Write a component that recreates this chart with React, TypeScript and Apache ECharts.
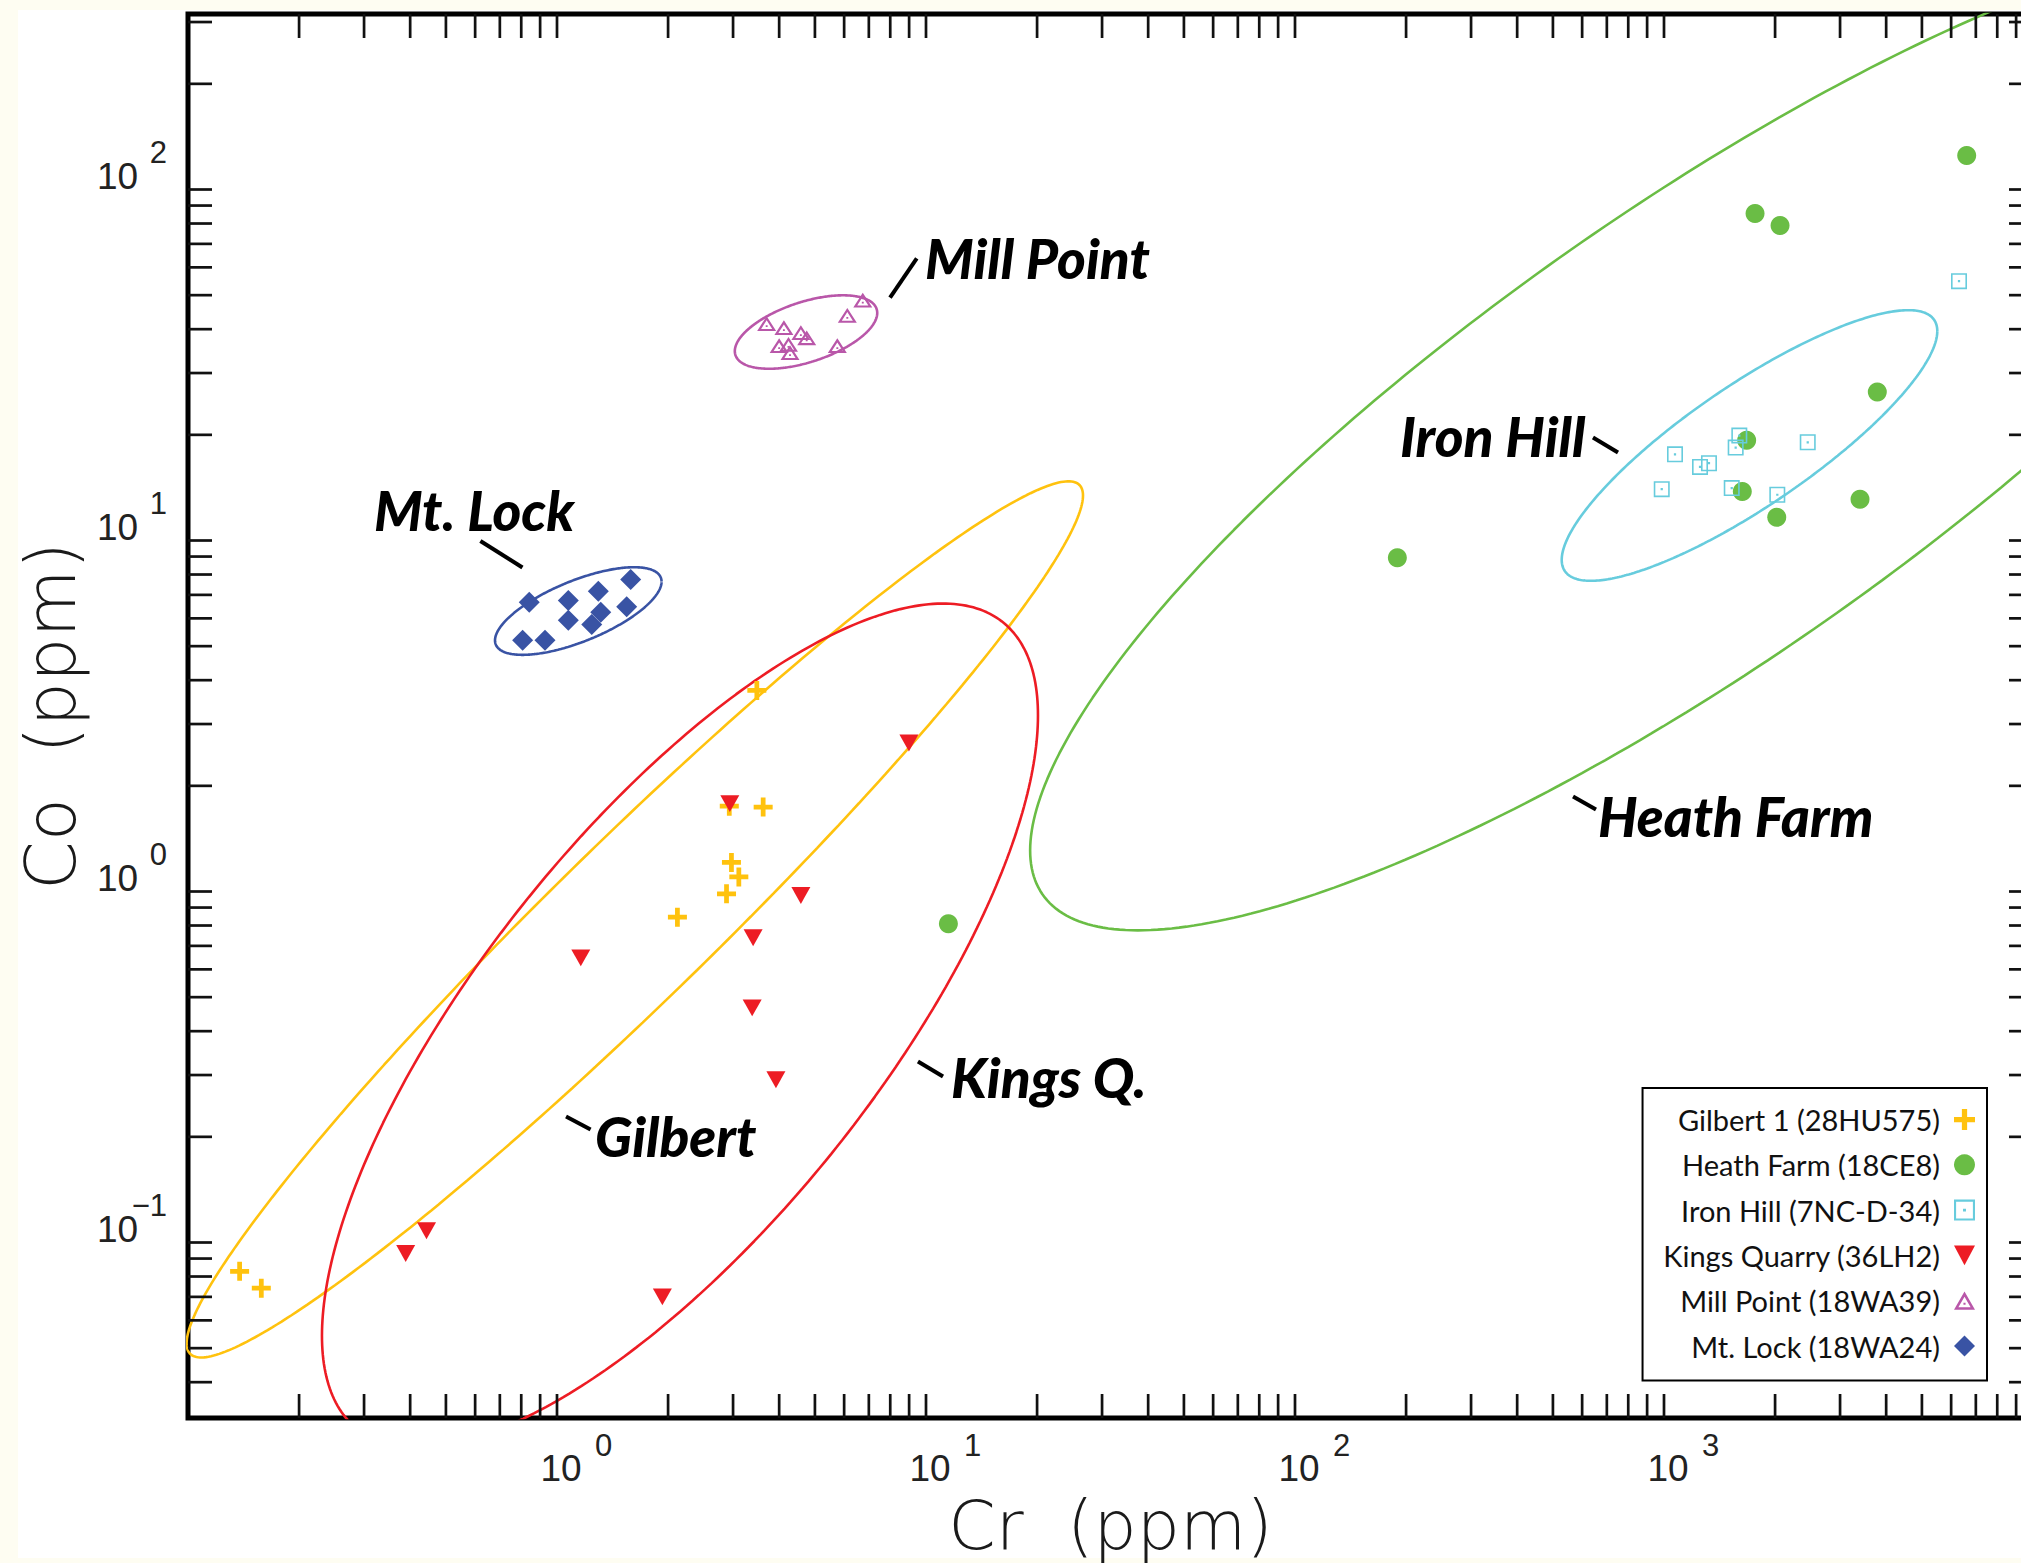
import React, { useEffect, useRef } from 'react';
import * as echarts from 'echarts';

// ---------- axis ranges / ticks ----------
const X_MIN = 0.1;
const X_MAX = 10000;
const Y_MIN = Math.pow(10, -1.5);
const Y_MAX = Math.pow(10, 2.5);
const tickMultipliers = [1, 2, 3, 4, 5, 6, 7, 8, 9];
const xTickDecades = [-1, 0, 1, 2, 3];
const yTickDecades = [-2, -1, 0, 1, 2];
const xLabelExponents = [0, 1, 2, 3];
const yLabelExponents = [-1, 0, 1, 2];

// ---------- data (Cr ppm, Co ppm) ----------
const gilbertCr = [3.48, 2.93, 3.62, 2.97, 3.11, 2.88, 2.12, 0.138, 0.158];
const gilbertCo = [3.74, 1.75, 1.74, 1.21, 1.1, 0.985, 0.845, 0.0828, 0.0741];

const heathCr = [6612, 1765, 2063, 3785, 1675, 1630, 2021, 3398, 189.4, 11.5];
const heathCo = [125, 85.4, 79.0, 26.5, 19.3, 13.8, 11.65, 13.1, 8.93, 0.809];

const ironCr = [6302, 1600, 1564, 2452, 1071, 1324, 1252, 986, 1526, 2028];
const ironCo = [54.8, 19.9, 18.4, 19.05, 17.6, 16.6, 16.2, 14.0, 14.1, 13.5];

const kingsCr = [8.99, 2.94, 4.58, 1.16, 3.4, 3.38, 3.92, 0.443, 0.389, 1.93];
const kingsCo = [2.65, 1.78, 0.974, 0.647, 0.738, 0.466, 0.291, 0.108, 0.093, 0.07];

const millCr = [3.7, 4.12, 4.58, 4.75, 4.0, 4.24, 4.28, 5.75, 6.12, 6.74];
const millCo = [41.5, 40.4, 39.1, 37.8, 35.9, 36.2, 34.3, 35.9, 43.8, 48.4];

const mtLockCr = [0.841, 1.073, 1.294, 1.584, 1.545, 1.314, 1.073, 1.242, 0.807, 0.928];
const mtLockCo = [6.67, 6.75, 7.17, 7.74, 6.47, 6.25, 5.93, 5.76, 5.2, 5.2];

// ---------- confidence ellipses (centre in ppm, spread in decades, correlation) ----------
const ellipseNames = ['Gilbert', 'Heath', 'Iron', 'Kings', 'Mill', 'MtLock'];
const ellipseCentreCr = [1.625, 1236, 1705, 2.154, 4.73, 1.142];
const ellipseCentreCo = [0.8327, 19.91, 18.65, 0.415, 39.26, 6.296];
const ellipseSpreadCr = [1.2146, 1.8098, 0.5089, 0.9702, 0.193, 0.2257];
const ellipseSpreadCo = [1.2481, 1.4097, 0.3855, 1.2023, 0.1046, 0.1248];
const ellipseCorr = [0.9676, 0.8385, 0.845, 0.735, 0.52, 0.67];

// ---------- annotations ----------
const annotationNames = ['Mill Point', 'Mt. Lock', 'Iron Hill', 'Heath Farm', 'Kings Q.', 'Gilbert'];
const annotationCr = [9.94, 0.319, 192.6, 662.4, 11.69, 1.268];
const annotationCo = [63.6, 12.18, 19.85, 1.636, 0.2952, 0.2017];
const leaderFromCr = [7.99, 0.62, 642.0, 566.8, 9.51, 1.058];
const leaderFromCo = [49.2, 9.97, 19.65, 1.865, 0.328, 0.2286];
const leaderToCr = [9.44, 0.806, 750.5, 654.2, 11.12, 1.233];
const leaderToCo = [63.6, 8.38, 17.81, 1.713, 0.297, 0.21];

// ---------- legend ----------
const legendNames = [
  'Gilbert 1 (28HU575)',
  'Heath Farm (18CE8)',
  'Iron Hill (7NC-D-34)',
  'Kings Quarry (36LH2)',
  'Mill Point (18WA39)',
  'Mt. Lock (18WA24)',
];
const colors = ['#FFC20E', '#6ABD45', '#67CCDD', '#ED1C24', '#B957A9', '#3953A4'];

const SYM_CROSS = 'path://M15,0H25V15H40V25H25V40H15V25H0V15H15Z';
const SYM_SQUARE_DOT = 'path://M0,0H100V100H0Z M10,10V90H90V10Z M43,43H57V57H43Z';
const SYM_DOWN_TRI = 'path://M0,0H100L50,94Z';
const SYM_TRI_DOT = 'path://M50,0L100,86.6L0,86.6Z M50,24L20.8,74.6L79.2,74.6Z M45,53H55V63H45Z';
const SYM_DIAMOND = 'path://M50,0L100,50L50,100L0,50Z';

function zip(a: number[], b: number[]) {
  return a.map((v, i) => [v, b[i]]);
}

function ellipsePoints(i: number) {
  const cx = Math.log10(ellipseCentreCr[i]);
  const cy = Math.log10(ellipseCentreCo[i]);
  const sx = ellipseSpreadCr[i];
  const sy = ellipseSpreadCo[i];
  const r = ellipseCorr[i];
  const s = Math.sqrt(1 - r * r);
  const pts: number[][] = [];
  const N = 360;
  for (let k = 0; k <= N; k++) {
    const t = (k / N) * Math.PI * 2;
    const lx = cx + sx * Math.cos(t);
    const ly = cy + sy * (r * Math.cos(t) + s * Math.sin(t));
    pts.push([Math.pow(10, lx), Math.pow(10, ly)]);
  }
  return pts;
}

function ticksFor(decades: number[], lo: number, hi: number) {
  const out: number[] = [];
  decades.forEach((e) => {
    tickMultipliers.forEach((m) => {
      const v = m * Math.pow(10, e);
      if (v > lo * 1.0001 && v < hi * 0.9999) out.push(v);
    });
  });
  return out;
}

function expText(e: number) {
  return e < 0 ? '\u2212' + Math.abs(e) : String(e);
}

function decadeOf(v: number, allowed: number[]) {
  const l = Math.log10(v);
  const r = Math.round(l);
  if (Math.abs(l - r) > 1e-6) return null;
  return allowed.indexOf(r) >= 0 ? r : null;
}

const TICK_LEN = 24;
const TICK_STYLE = { stroke: '#111', lineWidth: 2.7 };
const LABEL_FONT = 'Liberation Sans';
const X_TITLE_STYLE = { fontFamily: 'DejaVu Sans', fontSize: 68, lineHeight: 60, fontWeight: 300, color: '#1a1a1a' };
const Y_TITLE_STYLE = { fontFamily: 'DejaVu Sans', fontSize: 70, lineHeight: 60, fontWeight: 300, color: '#1a1a1a' };
const HIDDEN = { axisLine: { show: false }, axisTick: { show: false }, splitLine: { show: false }, minorTick: { show: false } };

export default function App() {
  const ref = useRef<HTMLDivElement>(null);

  useEffect(() => {
    if (!ref.current) return;
    const chart = echarts.init(ref.current, null, { renderer: 'svg' });

    const scatterData = [
      zip(gilbertCr, gilbertCo),
      zip(heathCr, heathCo),
      zip(ironCr, ironCo),
      zip(kingsCr, kingsCo),
      zip(millCr, millCo),
      zip(mtLockCr, mtLockCo),
    ];
    const symbols = [SYM_CROSS, 'circle', SYM_SQUARE_DOT, SYM_DOWN_TRI, SYM_TRI_DOT, SYM_DIAMOND];
    const symbolSizes: any[] = [19, 19, 16, [19, 18], [19, 17], 21];

    const ellipseSeries = ellipseNames.map((n, i) => ({
      name: n + ' ellipse',
      type: 'line',
      data: ellipsePoints(i),
      showSymbol: false,
      symbol: 'none',
      silent: true,
      z: 1,
      lineStyle: { color: colors[i], width: 2.6 },
      clip: true,
    }));

    const scatterSeries = legendNames.map((n, i) => ({
      name: n,
      type: 'scatter',
      data: scatterData[i],
      symbol: symbols[i],
      symbolSize: symbolSizes[i],
      symbolKeepAspect: true,
      itemStyle: { color: colors[i], opacity: 1 },
      z: 2,
    }));

    const xTicks = ticksFor(xTickDecades, X_MIN, X_MAX);
    const yTicks = ticksFor(yTickDecades, Y_MIN, Y_MAX);

    const xTickSeries = {
      type: 'custom',
      silent: true,
      z: 6,
      clip: false,
      data: xTicks.map((v) => [v, Y_MIN]),
      renderItem: (params: any, api: any) => {
        const v = api.value(0);
        const b = api.coord([v, Y_MIN]);
        const t = api.coord([v, Y_MAX]);
        return {
          type: 'group',
          children: [
            { type: 'line', shape: { x1: b[0], y1: b[1], x2: b[0], y2: b[1] - TICK_LEN }, style: TICK_STYLE },
            { type: 'line', shape: { x1: t[0], y1: t[1], x2: t[0], y2: t[1] + TICK_LEN }, style: TICK_STYLE },
          ],
        };
      },
    };
    const yTickSeries = {
      type: 'custom',
      silent: true,
      z: 6,
      clip: false,
      data: yTicks.map((v) => [X_MIN, v]),
      renderItem: (params: any, api: any) => {
        const v = api.value(1);
        const l = api.coord([X_MIN, v]);
        const r = api.coord([X_MAX, v]);
        return {
          type: 'group',
          children: [
            { type: 'line', shape: { x1: l[0], y1: l[1], x2: l[0] + TICK_LEN, y2: l[1] }, style: TICK_STYLE },
            { type: 'line', shape: { x1: r[0], y1: r[1], x2: r[0] - TICK_LEN, y2: r[1] }, style: TICK_STYLE },
          ],
        };
      },
    };

    const annotationSeries = {
      type: 'custom',
      silent: true,
      z: 7,
      clip: false,
      data: annotationNames.map((n, i) => [
        annotationCr[i], annotationCo[i], leaderFromCr[i], leaderFromCo[i], leaderToCr[i], leaderToCo[i],
      ]),
      renderItem: (params: any, api: any) => {
        const p = api.coord([api.value(0), api.value(1)]);
        const a = api.coord([api.value(2), api.value(3)]);
        const b = api.coord([api.value(4), api.value(5)]);
        return {
          type: 'group',
          children: [
            { type: 'line', shape: { x1: a[0], y1: a[1], x2: b[0], y2: b[1] }, style: { stroke: '#000', lineWidth: 4 } },
            {
              type: 'text',
              x: p[0],
              y: p[1],
              style: {
                text: annotationNames[params.dataIndex],
                fontFamily: 'Lato',
                fontWeight: 900,
                fontStyle: 'italic',
                fontSize: 55,
                fill: '#000',
                align: 'left',
                verticalAlign: 'middle',
              },
            },
          ],
        };
      },
    };

    const baseFmt = (allowed: number[]) => (v: number) => (decadeOf(v, allowed) === null ? '' : '10');
    const expFmt = (allowed: number[]) => (v: number) => {
      const e = decadeOf(v, allowed);
      return e === null ? '' : expText(e);
    };

    const logX = { type: 'log', logBase: 10, min: X_MIN, max: X_MAX, gridIndex: 0 };
    const logY = { type: 'log', logBase: 10, min: Y_MIN, max: Y_MAX, gridIndex: 0 };

    const option: any = {
      animation: false,
      backgroundColor: 'transparent',
      grid: {
        left: 188,
        top: 14,
        right: 27,
        bottom: 145,
        show: true,
        borderColor: '#000',
        borderWidth: 5,
        backgroundColor: 'transparent',
        containLabel: false,
        outerBoundsMode: 'none',
      },
      xAxis: [
        {
          ...logX,
          ...HIDDEN,
          position: 'bottom',
          name: 'Cr  (ppm)',
          nameLocation: 'middle',
          nameGap: 72,
          nameTextStyle: X_TITLE_STYLE,
          axisLabel: {
            show: true,
            margin: 50,
            align: 'center',
            verticalAlign: 'middle',
            padding: [0, 0, 0, 8],
            fontFamily: LABEL_FONT,
            fontSize: 37,
            color: '#222',
            formatter: baseFmt(xLabelExponents),
          },
        },
        {
          ...logX,
          ...HIDDEN,
          position: 'bottom',
          axisLabel: {
            show: true,
            margin: 27,
            align: 'left',
            verticalAlign: 'middle',
            padding: [0, 0, 0, 38],
            fontFamily: LABEL_FONT,
            fontSize: 31,
            color: '#222',
            formatter: expFmt(xLabelExponents),
          },
        },
      ],
      yAxis: [
        {
          ...logY,
          ...HIDDEN,
          position: 'left',
          name: 'Co  (ppm)',
          nameLocation: 'middle',
          nameGap: 85,
          nameRotate: 90,
          nameTextStyle: Y_TITLE_STYLE,
          axisLabel: {
            show: true,
            margin: 91,
            align: 'left',
            verticalAlign: 'bottom',
            lineHeight: 26,
            fontFamily: LABEL_FONT,
            fontSize: 37,
            color: '#222',
            formatter: baseFmt(yLabelExponents),
          },
        },
        {
          ...logY,
          ...HIDDEN,
          position: 'left',
          axisLabel: {
            show: true,
            margin: 21,
            align: 'right',
            verticalAlign: 'bottom',
            lineHeight: 22,
            padding: [0, 0, 26.5, 0],
            fontFamily: LABEL_FONT,
            fontSize: 31,
            color: '#222',
            formatter: expFmt(yLabelExponents),
          },
        },
      ],
      legend: {
        data: legendNames,
        orient: 'vertical',
        align: 'right',
        right: 73,
        top: 1088,
        padding: [17, 12, 20, 20],
        itemGap: 16.3,
        itemWidth: 21,
        itemHeight: 21,
        borderColor: '#000',
        borderWidth: 2,
        backgroundColor: '#fff',
        selectedMode: false,
        textStyle: { fontFamily: 'Lato', fontSize: 29, color: '#111', padding: [0, 9, 0, 0] },
      },
      series: [...ellipseSeries, ...scatterSeries, xTickSeries, yTickSeries, annotationSeries],
    };

    chart.setOption(option);
    return () => chart.dispose();
  }, []);

  return (
    <div
      style={{
        position: 'fixed',
        left: 0,
        top: 0,
        width: 2021,
        height: 1563,
        overflow: 'hidden',
        background: '#FEFDF2',
      }}
    >
      <div style={{ position: 'absolute', left: 18, top: 10, width: 2100, height: 1548, background: '#fff' }} />
      <div ref={ref} style={{ position: 'absolute', left: 0, top: 0, width: 2060, height: 1563 }} />
    </div>
  );
}
